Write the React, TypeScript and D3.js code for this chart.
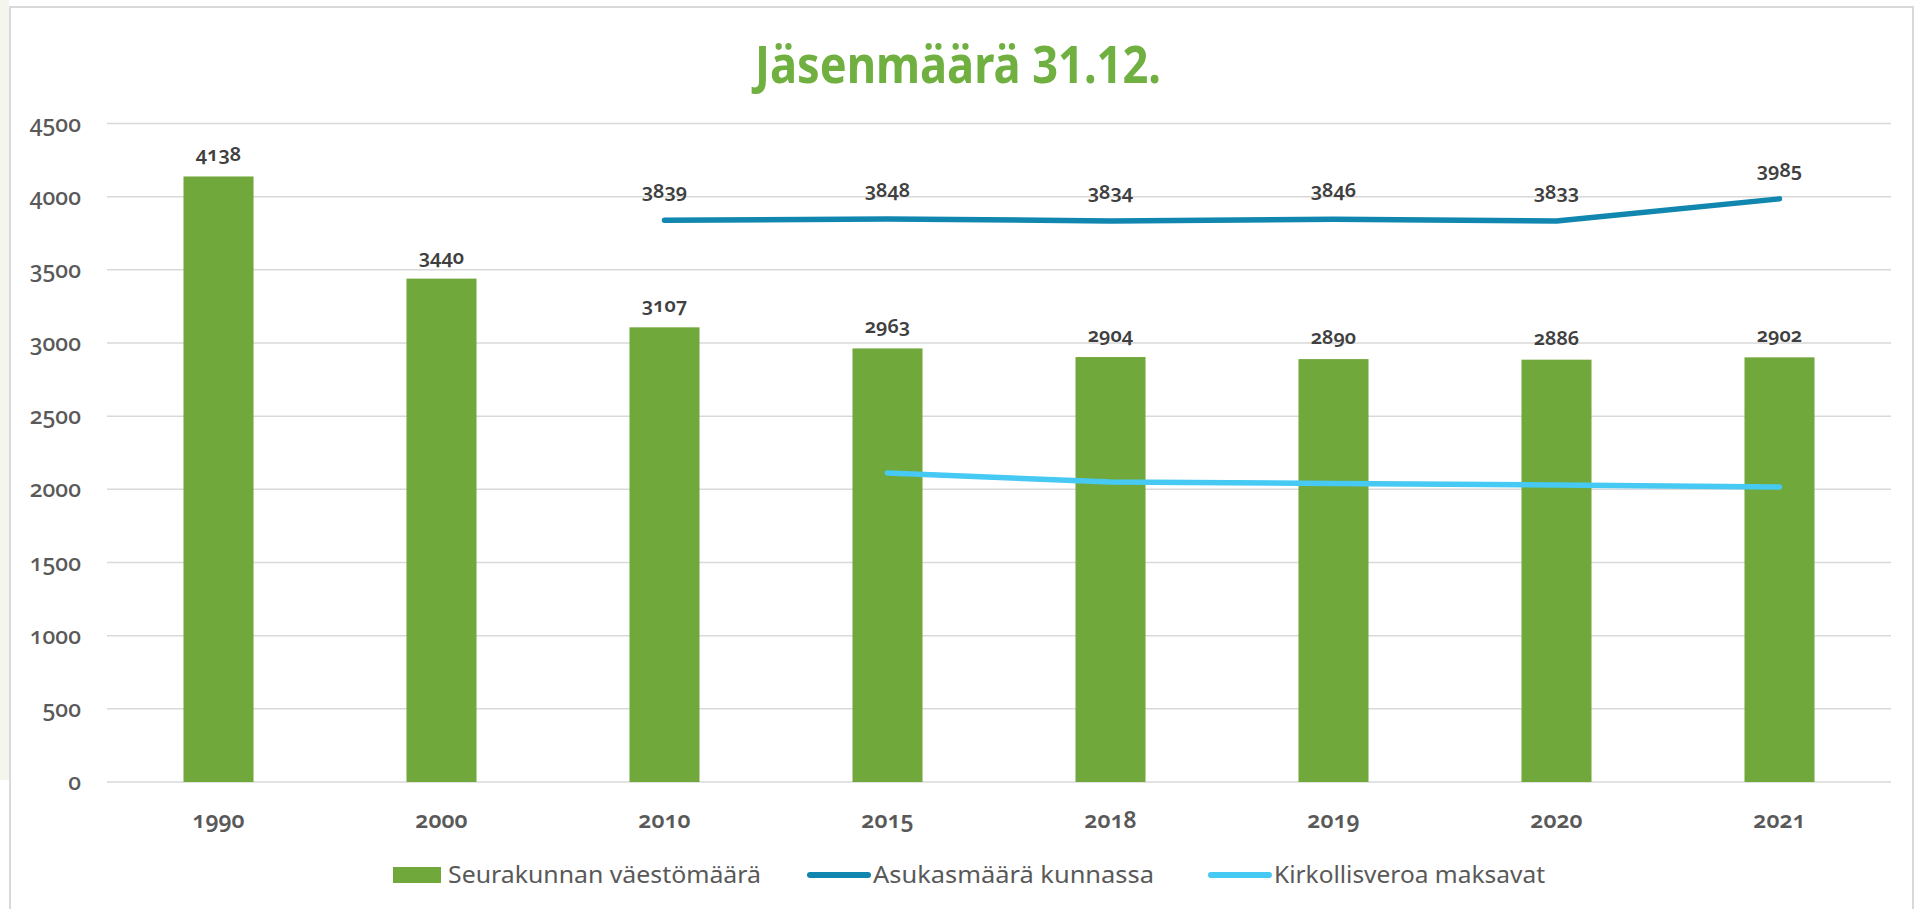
import React from "react";
import * as d3 from "d3";

// vuodet ja sarjat
const years = ["1990", "2000", "2010", "2015", "2018", "2019", "2020", "2021"];
const seurakunta = [4138, 3440, 3107, 2963, 2904, 2890, 2886, 2902];
const asukkaat: (number | null)[] = [null, null, 3839, 3848, 3834, 3846, 3833, 3985];
const veronmaksajat: (number | null)[] = [null, null, null, 2112, 2050, 2040, 2030, 2016];
const yTicks = [0, 500, 1000, 1500, 2000, 2500, 3000, 3500, 4000, 4500];
const legendLabels = ["Seurakunnan väestömäärä", "Asukasmäärä kunnassa", "Kirkollisveroa maksavat"];

const W = 1917;
const H = 909;
const FONT = "'Noto Sans', 'Open Sans', sans-serif";
const GREEN = "#71A83B";
const BLUE = "#1187B0";
const LIGHT = "#46C9F3";
const GRID = "#D9D9D9";
const TEXT = "#595959";

const App = () => {
  const x = d3
    .scaleBand()
    .domain(years)
    .range([107, 1891])
    .paddingInner(0.686)
    .paddingOuter(0.343);
  const y = d3.scaleLinear().domain([0, 4500]).range([782, 123.5]);
  const cx = (yr: string) => (x(yr) as number) + x.bandwidth() / 2;

  const line = d3
    .line<number | null>()
    .defined((d) => d != null)
    .x((_, i) => cx(years[i]))
    .y((d) => y(d as number));

  const numStyle: React.CSSProperties = { fontVariantNumeric: "oldstyle-nums" };

  return (
    <svg
      width={W}
      height={H}
      style={{ position: "absolute", left: 0, top: 0, display: "block", background: "#fff" }}
    >
      {/* dian tausta vasemmalla */}
      <rect x={0} y={0} width={9} height={780} fill="#F4F6EE" />
      <rect x={10} y={7} width={1903} height={H} fill="#fff" stroke={GRID} strokeWidth={2} />

      <text
        x={958}
        y={83}
        textAnchor="middle"
        fontFamily={FONT}
        fontWeight={700}
        fontSize={52}
        fill="#70B040"
        textLength={406}
        lengthAdjust="spacingAndGlyphs"
      >
        Jäsenmäärä 31.12.
      </text>

      {/* ruudukko ja y-akseli */}
      {yTicks.map((t) => (
        <g key={t}>
          <line x1={107} x2={1891} y1={y(t)} y2={y(t)} stroke={GRID} strokeWidth={1.5} />
          <text
            x={81}
            y={y(t) + 8}
            textAnchor="end"
            fontFamily={FONT}
            fontSize={23}
            fontWeight={500}
            fill={TEXT}
            style={numStyle}
          >
            {t}
          </text>
        </g>
      ))}

      {/* pylväät */}
      {seurakunta.map((v, i) => (
        <g key={years[i]}>
          <rect
            x={x(years[i])}
            y={y(v)}
            width={x.bandwidth()}
            height={y(0) - y(v)}
            fill={GREEN}
          />
          <text
            x={cx(years[i])}
            y={y(v) - 15}
            textAnchor="middle"
            fontFamily={FONT}
            fontSize={20}
            fontWeight={600}
            fill="#404040"
            style={numStyle}
          >
            {v}
          </text>
        </g>
      ))}

      {/* viivat */}
      <path d={line(veronmaksajat) || ""} fill="none" stroke={LIGHT} strokeWidth={5.5} strokeLinecap="round" strokeLinejoin="round" />
      <path d={line(asukkaat) || ""} fill="none" stroke={BLUE} strokeWidth={5.5} strokeLinecap="round" strokeLinejoin="round" />
      {asukkaat.map((v, i) =>
        v == null ? null : (
          <text
            key={"a" + i}
            x={cx(years[i])}
            y={y(v) - 22}
            textAnchor="middle"
            fontFamily={FONT}
            fontSize={20}
            fontWeight={600}
            fill="#404040"
            style={numStyle}
          >
            {v}
          </text>
        )
      )}

      {/* x-akseli */}
      {years.map((yr) => (
        <text
          key={yr}
          x={cx(yr)}
          y={828}
          textAnchor="middle"
          fontFamily={FONT}
          fontSize={23}
          fontWeight={600}
          fill={TEXT}
          style={numStyle}
        >
          {yr}
        </text>
      ))}

      {/* selite */}
      <rect x={393} y={867} width={48} height={16} fill={GREEN} />
      <text x={448} y={883} fontFamily={FONT} fontSize={24} fill={TEXT} textLength={313} lengthAdjust="spacingAndGlyphs">
        {legendLabels[0]}
      </text>
      <line x1={810} x2={868} y1={875} y2={875} stroke={BLUE} strokeWidth={6} strokeLinecap="round" />
      <text x={873} y={883} fontFamily={FONT} fontSize={24} fill={TEXT} textLength={281} lengthAdjust="spacingAndGlyphs">
        {legendLabels[1]}
      </text>
      <line x1={1211} x2={1269} y1={875} y2={875} stroke={LIGHT} strokeWidth={6} strokeLinecap="round" />
      <text x={1274} y={883} fontFamily={FONT} fontSize={24} fill={TEXT} textLength={271} lengthAdjust="spacingAndGlyphs">
        {legendLabels[2]}
      </text>
    </svg>
  );
};

export default App;
